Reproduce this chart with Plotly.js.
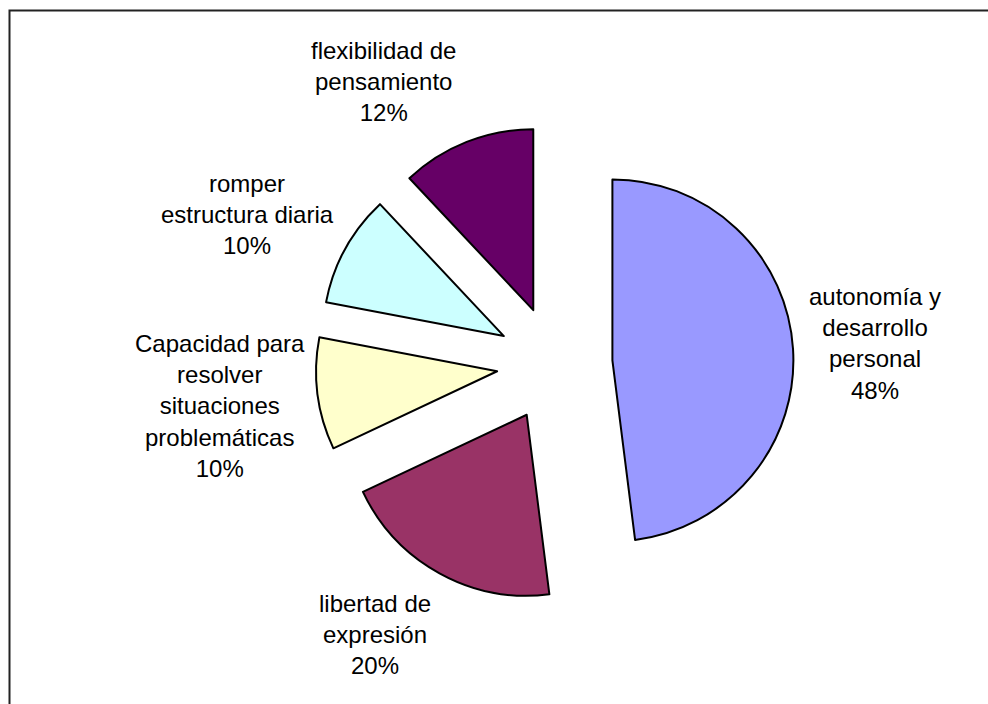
<!DOCTYPE html>
<html>
<head>
<meta charset="utf-8">
<script src="https://cdn.plot.ly/plotly-3.0.1.min.js"></script>
<style>
  html, body { margin: 0; padding: 0; background: #fff; }
  #chart { width: 988px; height: 704px; }
</style>
</head>
<body>
<div id="chart"></div>
<script>
// ---- data ----
var categories = [
  'autonomía y<br>desarrollo<br>personal',
  'libertad de<br>expresión',
  'Capacidad para<br>resolver<br>situaciones<br>problemáticas',
  'romper<br>estructura diaria',
  'flexibilidad de<br>pensamiento'
];
var values = [48, 20, 10, 10, 12];
var sliceColors = ['#9999FF', '#993366', '#FFFFCC', '#CCFFFF', '#660066'];

// ---- layout helpers (label positions in pixels) ----
var W = 988, H = 704;
var labelPx = [[875, 343], [375, 634], [220, 406], [247, 214], [383, 82]];
var total = values.reduce(function (a, b) { return a + b; }, 0);

var annotations = categories.map(function (c, i) {
  return {
    xref: 'paper', yref: 'paper',
    x: labelPx[i][0] / W, y: 1 - labelPx[i][1] / H,
    xanchor: 'center', yanchor: 'middle', align: 'center',
    showarrow: false,
    text: c + '<br>' + Math.round(values[i] / total * 100) + '%',
    font: { family: 'Arial, "Liberation Sans", sans-serif', size: 24, color: '#000' }
  };
});

var trace = {
  type: 'pie',
  labels: categories,
  values: values,
  sort: false,
  direction: 'clockwise',
  rotation: 0,
  pull: 0.32,
  textinfo: 'none',
  hoverinfo: 'label+percent',
  marker: { colors: sliceColors, line: { color: '#000', width: 2 } },
  domain: { x: [315.7 / W, 793.5 / W], y: [1 - 602.9 / H, 1 - 125.1 / H] }
};

var layout = {
  width: W, height: H,
  margin: { l: 0, r: 0, t: 0, b: 0 },
  paper_bgcolor: '#fff',
  showlegend: false,
  annotations: annotations,
  shapes: [{
    type: 'rect', xref: 'paper', yref: 'paper',
    x0: 9.5 / W, x1: 1.05, y0: -0.05, y1: 1 - 10.5 / H,
    line: { color: '#222', width: 2 }, fillcolor: 'rgba(0,0,0,0)'
  }]
};

Plotly.newPlot('chart', [trace], layout, { displayModeBar: false, staticPlot: true });
</script>
</body>
</html>
